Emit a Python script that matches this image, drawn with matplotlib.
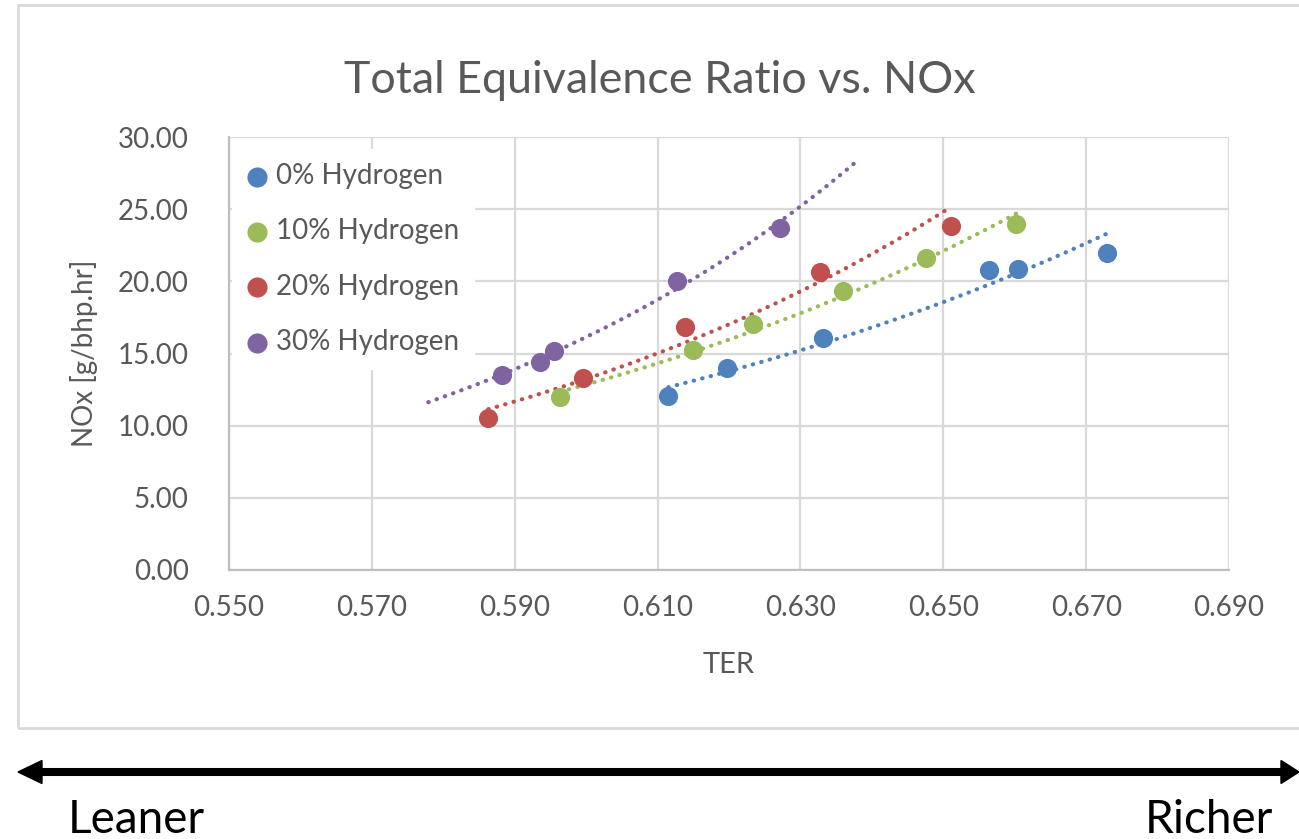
import numpy as np
import matplotlib
matplotlib.use('Agg')
import matplotlib.pyplot as plt
from matplotlib.patches import Rectangle, Polygon
from matplotlib.lines import Line2D

# Configuração de fontes
matplotlib.rcParams['font.family'] = ['Lato', 'DejaVu Sans']

# ====================
# Dados
# ====================
series_labels = ['0% Hydrogen', '10% Hydrogen', '20% Hydrogen', '30% Hydrogen']
series_colors = ['#4F81BD', '#9BBB59', '#C0504D', '#8064A2']

ter_h0 = [0.6115, 0.6197, 0.6331, 0.6564, 0.6604, 0.6729]
nox_h0 = [12.06, 14.00, 16.08, 20.80, 20.86, 21.97]

ter_h10 = [0.5964, 0.6149, 0.6234, 0.6359, 0.6476, 0.6602]
nox_h10 = [11.97, 15.25, 17.05, 19.33, 21.60, 23.98]

ter_h20 = [0.5863, 0.5995, 0.6138, 0.6328, 0.6511]
nox_h20 = [10.53, 13.30, 16.84, 20.65, 23.84]

ter_h30 = [0.5882, 0.5935, 0.5955, 0.6127, 0.6271]
nox_h30 = [13.51, 14.43, 15.20, 20.05, 23.72]

# projeção da linha de tendência (para trás, para frente)
trend_forecast = [(0.0, 0.0), (0.0, 0.0), (0.0, 0.0), (0.0103, 0.0104)]

x_ticks = [0.550, 0.570, 0.590, 0.610, 0.630, 0.650, 0.670, 0.690]
y_ticks = [0, 5, 10, 15, 20, 25, 30]

all_ter = [ter_h0, ter_h10, ter_h20, ter_h30]
all_nox = [nox_h0, nox_h10, nox_h20, nox_h30]

# ====================
# Figura
# ====================
W, H = 1299, 839
fig = plt.figure(figsize=(W / 100, H / 100), dpi=100)
fig.patch.set_facecolor('white')

def fx(px):
    return px / W

def fy(py):
    return 1 - py / H

text_grey = '#595959'

# borda da área do gráfico
fig.add_artist(Rectangle((fx(18), fy(728)), fx(1320 - 18), (728 - 5) / H,
                         transform=fig.transFigure, fill=False,
                         edgecolor='#d9d9d9', linewidth=2))

ax = fig.add_axes([fx(229), fy(570), fx(1000), 433 / H])

for ter, nox, label, color, (back, fwd) in zip(all_ter, all_nox, series_labels,
                                               series_colors, trend_forecast):
    ter = np.array(ter)
    nox = np.array(nox)
    # linha de tendência exponencial (como no Excel)
    b, ln_a = np.polyfit(ter, np.log(nox), 1)
    xs = np.linspace(ter.min() - back, ter.max() + fwd, 200)
    ax.plot(xs, np.exp(ln_a) * np.exp(b * xs), color=color, linewidth=3.0,
            linestyle=(0, (0.1, 2.0)), dash_capstyle='round', zorder=3)
    ax.scatter(ter, nox, s=13.8 ** 2, color=color, linewidths=0, zorder=4,
               label=label)

ax.set_xlim(x_ticks[0], x_ticks[-1])
ax.set_ylim(y_ticks[0], y_ticks[-1])
ax.set_xticks(x_ticks)
ax.set_yticks(y_ticks)
ax.set_xticklabels([f'{v:.3f}' for v in x_ticks])
ax.set_yticklabels([f'{v:.2f}' for v in y_ticks])
ax.tick_params(axis='both', length=0, labelsize=20, labelcolor=text_grey)
ax.tick_params(axis='y', pad=29)
ax.tick_params(axis='x', pad=18)

ax.grid(True, color='#d9d9d9', linewidth=1.6)
ax.set_axisbelow(True)
for side in ['top', 'right']:
    ax.spines[side].set_visible(False)
for side in ['left', 'bottom']:
    ax.spines[side].set_color('#bfbfbf')
    ax.spines[side].set_linewidth(1.6)

ax.set_xlabel('TER', fontsize=21, color=text_grey, labelpad=22)
ax.set_ylabel('NOx [g/bhp.hr]', fontsize=20, color=text_grey, labelpad=14)

leg = ax.legend(loc='upper left', bbox_to_anchor=(3 / 1000, 1 - (149 - 137) / 433),
                fontsize=20, frameon=True, fancybox=False, borderpad=0.5,
                labelspacing=1.06, handlelength=0.8, handletextpad=0.3,
                borderaxespad=0, scatterpoints=1, markerscale=1.05)
leg.get_frame().set_facecolor('white')
leg.get_frame().set_edgecolor('white')
leg.get_frame().set_alpha(1)
for t in leg.get_texts():
    t.set_color(text_grey)

fig.text(fx(660), fy(93), 'Total Equivalence Ratio vs. NOx', fontsize=32.3,
         color=text_grey, ha='center', va='baseline')

# seta Leaner <-> Richer
fig.add_artist(Line2D([fx(38), fx(1284)], [fy(772), fy(772)],
                      transform=fig.transFigure, color='black', linewidth=5.8,
                      solid_capstyle='butt'))
fig.add_artist(Polygon([[fx(18), fy(772)], [fx(42), fy(760.5)], [fx(42), fy(783.5)]],
                       closed=True, transform=fig.transFigure, color='black'))
fig.add_artist(Polygon([[fx(1299), fy(772)], [fx(1281), fy(760.5)], [fx(1281), fy(783.5)]],
                       closed=True, transform=fig.transFigure, color='black'))

fig.text(fx(68), fy(833), 'Leaner', fontsize=33, color='black', ha='left', va='baseline')
fig.text(fx(1273), fy(833), 'Richer', fontsize=33, color='black', ha='right', va='baseline')

fig.savefig('out.png', dpi=100, facecolor='white')
